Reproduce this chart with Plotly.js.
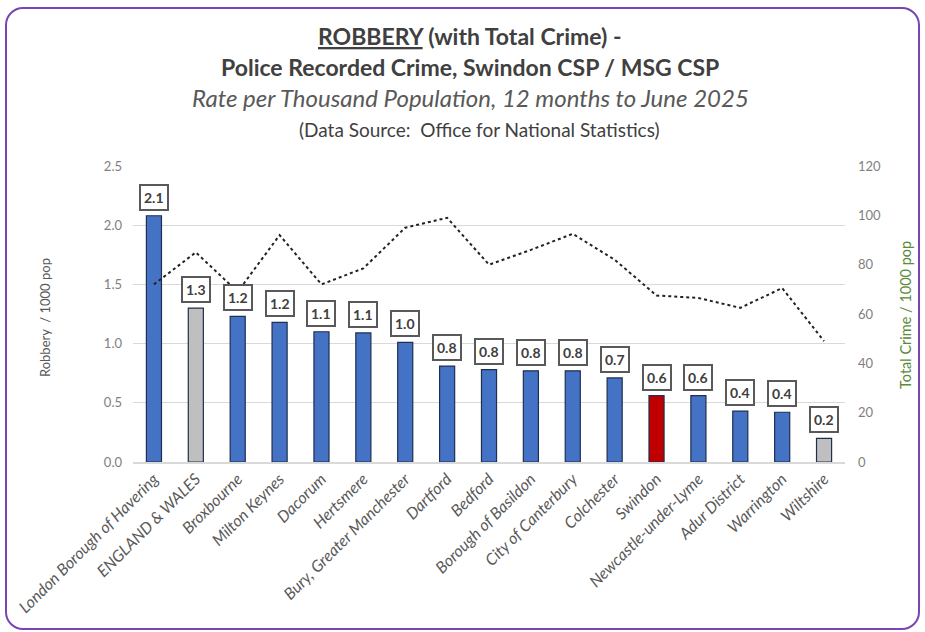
<!DOCTYPE html>
<html>
<head>
<meta charset="utf-8">
<script src="https://cdn.plot.ly/plotly-3.0.1.min.js"></script>
<style>
html,body{margin:0;padding:0;background:#fff;}
#wrap{position:relative;width:925px;height:632px;}
#chart{width:925px;height:632px;}
#frame{position:absolute;left:5px;top:7px;width:911px;height:619px;border:2px solid #7b44b5;border-radius:18px;pointer-events:none;}
</style>
</head>
<body>
<div id="wrap"><div id="chart"></div><div id="frame"></div></div>
<script>
const categories = ["London Borough of Havering","ENGLAND & WALES","Broxbourne","Milton Keynes","Dacorum","Hertsmere","Bury, Greater Manchester","Dartford","Bedford","Borough of Basildon","City of Canterbury","Colchester","Swindon","Newcastle-under-Lyme","Adur District","Warrington","Wiltshire"];
const robberyRate = [2.08,1.30,1.23,1.18,1.10,1.09,1.01,0.81,0.78,0.77,0.77,0.71,0.56,0.56,0.43,0.42,0.20];
const totalCrimeRate = [72,85,69,92,72,78.5,95,99,80,86,92.5,82,67.5,66.5,62.5,70.5,49];
const barGroup = ["csp","national","csp","csp","csp","csp","csp","csp","csp","csp","csp","csp","home","csp","csp","csp","county"];

const groupColor = {csp:"#4472c4", national:"#bfbfbf", home:"#c00000", county:"#bfbfbf"};
const FONT = "Lato, 'Open Sans', sans-serif";

const bars = {
  type:"bar", x:categories, y:robberyRate, width:0.36,
  marker:{color:barGroup.map(g=>groupColor[g]), line:{color:"#1f2f4f", width:1.2}},
  hoverinfo:"x+y", yaxis:"y"
};
const line = {
  type:"scatter", mode:"lines", x:categories, y:totalCrimeRate, yaxis:"y2",
  line:{color:"#222", width:2, dash:"dot"}, hoverinfo:"x+y"
};

const PT=166, PB=462, PL=133, PR=845;
const py = p => (PB-p)/(PB-PT);
const px = p => (p-PL)/(PR-PL);

const annotations = robberyRate.map((v,i)=>({
  x:categories[i], y:v, xref:"x", yref:"y", text:"<b>"+v.toFixed(1)+"</b>",
  showarrow:false, yanchor:"bottom", yshift:5,
  font:{family:FONT, size:14, color:"#404040"},
  bgcolor:"#ffffff", bordercolor:"#595959", borderwidth:2, borderpad:3
}));
annotations.push(
  {xref:"paper", yref:"paper", x:px(470), y:py(36), xanchor:"center", yanchor:"middle", showarrow:false,
   text:"<b><span style=\"text-decoration:underline\">ROBBERY</span> (with Total Crime) -</b>",
   font:{family:FONT, size:23, color:"#404040"}},
  {xref:"paper", yref:"paper", x:px(470), y:py(67), xanchor:"center", yanchor:"middle", showarrow:false,
   text:"<b>Police Recorded Crime, Swindon CSP / MSG CSP</b>",
   font:{family:FONT, size:23, color:"#404040"}},
  {xref:"paper", yref:"paper", x:px(470), y:py(98), xanchor:"center", yanchor:"middle", showarrow:false,
   text:"<i>Rate per Thousand Population, 12 months to June 2025</i>",
   font:{family:FONT, size:24, color:"#595959"}},
  {xref:"paper", yref:"paper", x:px(479), y:py(130), xanchor:"center", yanchor:"middle", showarrow:false,
   text:"(Data Source:  Office for National Statistics)",
   font:{family:FONT, size:19, color:"#404040"}},
  {xref:"paper", yref:"paper", x:px(45), y:py(318), xanchor:"center", yanchor:"middle", showarrow:false, textangle:-90,
   text:"Robbery  / 1000 pop", font:{family:FONT, size:13, color:"#595959"}},
  {xref:"paper", yref:"paper", x:px(905), y:py(315), xanchor:"center", yanchor:"middle", showarrow:false, textangle:-90,
   text:"Total Crime / 1000 pop", font:{family:FONT, size:14.5, color:"#5b8a3a"}}
);

const layout = {
  width:925, height:632,
  margin:{l:PL, r:925-PR, t:PT, b:632-PB},
  paper_bgcolor:"#ffffff", plot_bgcolor:"#ffffff",
  showlegend:false,
  font:{family:FONT, color:"#7f7f7f"},
  xaxis:{tickangle:-45, tickfont:{family:FONT, size:16, color:"#595959", style:"italic"},
         showgrid:false, showline:true, linecolor:"#d9d9d9", linewidth:1.5, ticks:"", automargin:false},
  yaxis:{range:[0,2.5], dtick:0.5, tickformat:".1f", showgrid:true, gridcolor:"#d9d9d9", gridwidth:1,
         zeroline:false, ticks:"", tickfont:{family:FONT, size:13, color:"#7f7f7f"}, ticklabelstandoff:10, automargin:false},
  yaxis2:{range:[0,120], dtick:20, overlaying:"y", side:"right", showgrid:false, zeroline:false, ticks:"",
          tickfont:{family:FONT, size:13, color:"#7f7f7f"}, ticklabelstandoff:12, automargin:false},
  annotations:annotations
};

Plotly.newPlot("chart",[bars,line],layout,{displayModeBar:false, staticPlot:true});
</script>
</body>
</html>
